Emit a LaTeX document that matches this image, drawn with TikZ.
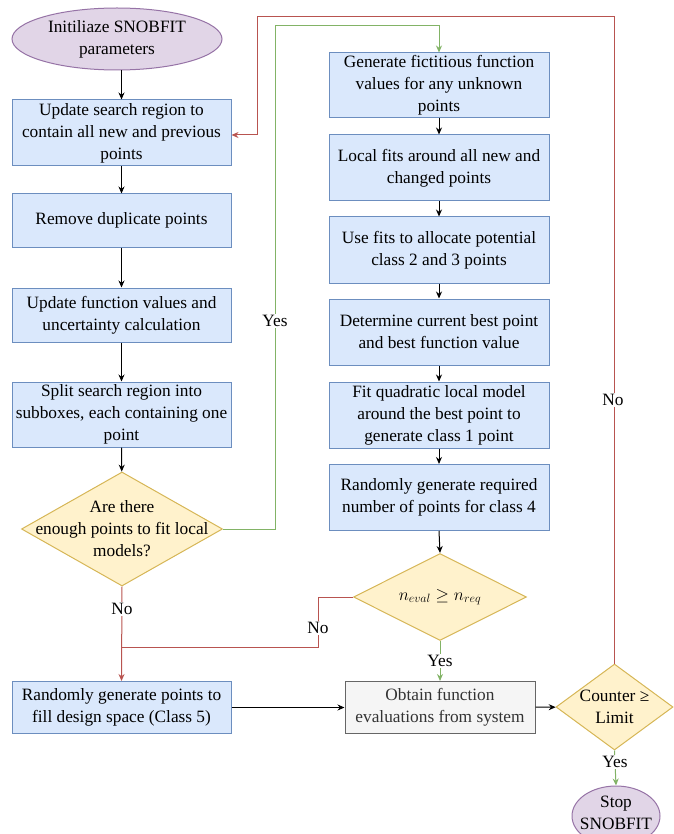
\documentclass[tikz,border=0pt]{standalone}
\usepackage{fontspec}
\setmainfont{Liberation Serif}
\usepackage{tikz}
\usetikzlibrary{shapes.geometric, arrows.meta}
\definecolor{boxfill}{HTML}{DAE8FC}
\definecolor{boxline}{HTML}{6C8EBF}
\definecolor{decfill}{HTML}{FFF2CC}
\definecolor{decline}{HTML}{D6B656}
\definecolor{termfill}{HTML}{E1D5E7}
\definecolor{termline}{HTML}{9673A6}
\definecolor{grayfill}{HTML}{F5F5F5}
\definecolor{grayline}{HTML}{666666}
\definecolor{graytext}{HTML}{333333}
\definecolor{nored}{HTML}{B85450}
\definecolor{yesgreen}{HTML}{82B366}
\newcommand{\chartfont}{\fontsize{17.3}{22}\selectfont}
\tikzstyle{box} = [rectangle, draw = boxline, fill = boxfill, line width = 1pt, inner sep = 0pt, minimum width = 219pt, align = center, font = \chartfont]
\tikzstyle{graybox} = [rectangle, draw = grayline, fill = grayfill, text = graytext, line width = 1pt, inner sep = 0pt, align = center, font = \chartfont]
\tikzstyle{decision} = [diamond, draw = decline, fill = decfill, line width = 1pt, inner sep = 0pt]
\tikzstyle{term} = [ellipse, draw = termline, fill = termfill, line width = 1pt, inner sep = 0pt]
\tikzstyle{inside} = [align = center, font = \chartfont]
\tikzstyle{lbl} = [fill = white, inner sep = 1pt, font = \chartfont]
\tikzstyle{flow} = [->, line width = 1pt]

\begin{document}
\begin{tikzpicture}[x = 1pt, y = -1pt, >={Stealth[length = 7pt, width = 6pt]}]
    \useasboundingbox (0, 0) rectangle (673, 834);

    % left column
    \node (start) at (117, 39) [term, minimum width = 210pt, minimum height = 62pt, label = {[inside]center:Initiliaze SNOBFIT\\parameters}] {};
    \node (region) at (121.5, 133) [box, minimum height = 66pt] {Update search region to\\contain all new and previous\\points};
    \node (dupl) at (121.5, 220.5) [box, minimum height = 53pt] {Remove duplicate points};
    \node (values) at (121.5, 315) [box, minimum height = 54pt] {Update function values and\\uncertainty calculation};
    \node (split) at (121.5, 414.5) [box, minimum height = 65pt] {Split search region into\\subboxes, each containing one\\point};
    \node (enough) at (122, 529) [decision, minimum width = 201pt, minimum height = 114pt, label = {[inside]center:Are there\\enough points to fit local\\models?}] {};
    \node (class5) at (121.5, 707.5) [box, minimum height = 52pt] {Randomly generate points to\\fill design space (Class 5)};

    % right column
    \node (fict) at (439, 85.5) [box, minimum width = 220pt, minimum height = 65pt] {Generate fictitious function\\values for any unknown\\points};
    \node (fits) at (439, 168) [box, minimum width = 220pt, minimum height = 66pt] {Local fits around all new and\\changed points};
    \node (alloc) at (439, 250) [box, minimum width = 220pt, minimum height = 66pt] {Use fits to allocate potential\\class 2 and 3 points};
    \node (best) at (439, 332) [box, minimum width = 220pt, minimum height = 66pt] {Determine current best point\\and best function value};
    \node (quad) at (439, 415) [box, minimum width = 220pt, minimum height = 66pt] {Fit quadratic local model\\around the best point to\\generate class 1 point};
    \node (class4) at (439, 497.5) [box, minimum width = 220pt, minimum height = 66pt] {Randomly generate required\\number of points for class 4};
    \node (neval) at (440, 597) [decision, minimum width = 173pt, minimum height = 87pt, label = {[inside]center:$n_{eval} \geq n_{req}$}] {};
    \node (obtain) at (440, 707.5) [graybox, minimum width = 190pt, minimum height = 52pt] {Obtain function\\evaluations from system};
    \node (counter) at (614.5, 707) [decision, minimum width = 117pt, minimum height = 86pt, label = {[inside]center:Counter ≥\\Limit}] {};
    \node (stop) at (616, 816) [term, minimum width = 88pt, minimum height = 60pt, label = {[inside, yshift = 3pt]center:Stop\\SNOBFIT}] {};

    \coordinate (join) at (122, 647);
    \coordinate (noturn) at (318, 597);
    \coordinate (yesturn) at (275, 26);
    \coordinate (loopturn) at (257, 17);

    % straight flow
    \draw [flow] (start.south -| region) -- (region);
    \draw [flow] (region) -- (dupl);
    \draw [flow] (dupl) -- (values);
    \draw [flow] (values) -- (split);
    \draw [flow] (split) -- (enough);
    \draw [flow] (fict) -- (fits);
    \draw [flow] (fits) -- (alloc);
    \draw [flow] (alloc) -- (best);
    \draw [flow] (best) -- (quad);
    \draw [flow] (quad) -- (class4);
    \draw [flow] (class4.south) -- (neval.north);
    \draw [flow] (class5) -- (obtain);
    \draw [flow] (obtain) -- (counter);

    % branches
    \draw [flow, draw = nored] (enough.south) -- (class5.north);
    \draw [line width = 1pt, draw = nored] (neval.west) -- (noturn) |- (join);
    \draw [flow, draw = yesgreen] (enough.east) -| (yesturn) -| (fict.north);
    \draw [flow, draw = yesgreen] (neval.south) -- (obtain.north);
    \draw [flow, draw = yesgreen] (counter.south) -- (stop.north);
    \draw [flow, draw = nored] (counter.north) |- (loopturn) |- ([yshift = -2pt]region.east);

    \node (no1) at (122, 609) [lbl] {No};
    \node (no2) at (318, 628) [lbl] {No};
    \node (no3) at (613, 400) [lbl] {No};
    \node (yes1) at (275, 321) [lbl] {Yes};
    \node (yes2) at (440, 661) [lbl] {Yes};
    \node (yes3) at (615, 762) [lbl] {Yes};
\end{tikzpicture}
\end{document}
